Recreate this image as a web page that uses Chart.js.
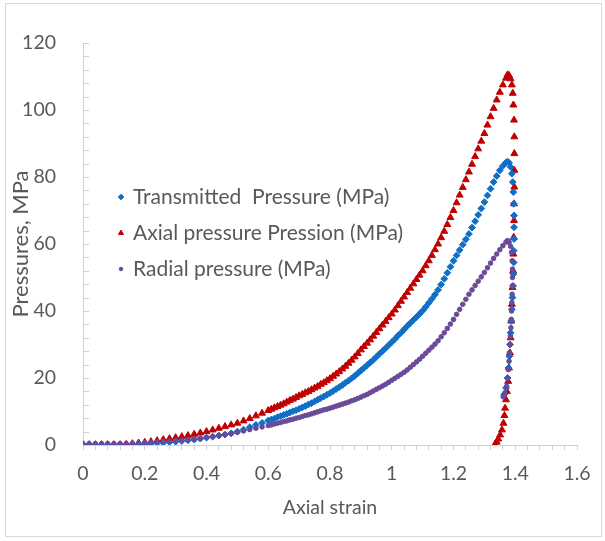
<!DOCTYPE html>
<html>
<head>
<meta charset="utf-8">
<title>Pressures vs axial strain</title>
<script src="https://cdn.jsdelivr.net/npm/chart.js@4.4.0/dist/chart.umd.min.js"></script>
<style>
  html, body { margin: 0; padding: 0; background: #fff; }
  #wrap { width: 605px; height: 541px; }
</style>
</head>
<body>
<div id="wrap"><canvas id="pressureChart" width="605" height="541"></canvas></div>
<script>
// Strain positions for the loading branch (shared by the three series)
const strainRise = [
  0, 0.02, 0.04, 0.06, 0.08, 0.1, 0.12, 0.14, 0.16, 0.18,
  0.2, 0.22, 0.24, 0.26, 0.28, 0.3, 0.32, 0.34, 0.36, 0.38,
  0.4, 0.42, 0.44, 0.46, 0.48, 0.5, 0.52, 0.54, 0.56, 0.58,
  0.6, 0.61, 0.62, 0.63, 0.64, 0.65, 0.66, 0.67, 0.68, 0.69,
  0.7, 0.71, 0.72, 0.73, 0.74, 0.75, 0.76, 0.77, 0.78, 0.79,
  0.8, 0.81, 0.82, 0.83, 0.84, 0.85, 0.86, 0.87, 0.88, 0.89,
  0.9, 0.91, 0.92, 0.93, 0.94, 0.95, 0.96, 0.97, 0.98, 0.99,
  1.0, 1.01, 1.02, 1.03, 1.04, 1.05, 1.06, 1.07, 1.08, 1.09,
  1.1, 1.11, 1.12, 1.13, 1.14, 1.15, 1.16, 1.17, 1.18, 1.19,
  1.2, 1.21, 1.22, 1.23, 1.24, 1.25, 1.26, 1.27, 1.28, 1.29,
  1.3, 1.31, 1.32, 1.33, 1.34, 1.35, 1.36, 1.37
];

// Loading branch values (MPa)
const transmittedRise = [
  0.1, 0.1, 0.1, 0.1, 0.1, 0.1, 0.1, 0.1, 0.2, 0.3,
  0.4, 0.5, 0.6, 0.7, 0.85, 1.0, 1.2, 1.4, 1.6, 1.9,
  2.2, 2.5, 2.8, 3.1, 3.5, 4.0, 4.6, 5.3, 6.0, 6.6,
  7.3, 7.6, 7.9, 8.3, 8.6, 9.0, 9.3, 9.7, 10.1, 10.4,
  10.8, 11.2, 11.6, 12.1, 12.5, 13.0, 13.5, 14.0, 14.5, 15.0,
  15.5, 16.1, 16.7, 17.3, 17.9, 18.6, 19.2, 19.9, 20.6, 21.4,
  22.2, 23.0, 23.8, 24.6, 25.4, 26.3, 27.2, 28.0, 28.9, 29.8,
  30.7, 31.6, 32.6, 33.5, 34.5, 35.5, 36.4, 37.3, 38.2, 39.1,
  40.1, 41.2, 42.4, 43.6, 44.9, 46.3, 47.9, 49.6, 51.4, 53.2,
  55.0, 56.6, 58.2, 59.8, 61.4, 63.0, 64.9, 66.8, 68.7, 70.6,
  72.5, 74.5, 76.5, 78.5, 80.3, 82.0, 83.3, 84.3
];
const axialRise = [
  0.1, 0.1, 0.1, 0.1, 0.1, 0.1, 0.1, 0.2, 0.4, 0.6,
  0.8, 1.0, 1.3, 1.6, 1.9, 2.2, 2.5, 2.8, 3.2, 3.6,
  4.0, 4.5, 5.0, 5.5, 6.0, 6.5, 7.2, 7.9, 8.7, 9.5,
  10.3, 10.7, 11.1, 11.5, 11.9, 12.3, 12.8, 13.3, 13.7, 14.2,
  14.7, 15.1, 15.6, 16.0, 16.5, 17.0, 17.5, 18.1, 18.6, 19.2,
  19.8, 20.5, 21.2, 21.9, 22.7, 23.5, 24.4, 25.3, 26.3, 27.3,
  28.4, 29.4, 30.4, 31.4, 32.5, 33.6, 34.7, 35.8, 36.9, 38.0,
  39.1, 40.3, 41.6, 42.9, 44.2, 45.5, 46.8, 48.1, 49.4, 50.7,
  52.0, 53.5, 55.0, 56.6, 58.3, 60.0, 61.9, 63.8, 65.8, 67.9,
  70.0, 72.3, 74.6, 76.9, 79.2, 81.5, 83.8, 86.1, 88.4, 90.7,
  93.0, 95.5, 98.0, 100.5, 103.0, 105.3, 107.5, 109.5
];
const radialRise = [
  0.4, 0.4, 0.4, 0.4, 0.4, 0.4, 0.4, 0.4, 0.5, 0.6,
  0.7, 0.8, 0.9, 1.0, 1.1, 1.25, 1.4, 1.6, 1.8, 2.0,
  2.3, 2.5, 2.8, 3.1, 3.4, 3.8, 4.2, 4.6, 5.0, 5.4,
  5.8, 6.0, 6.3, 6.5, 6.7, 7.0, 7.2, 7.5, 7.7, 8.0,
  8.2, 8.5, 8.8, 9.0, 9.3, 9.6, 9.9, 10.2, 10.5, 10.7,
  11.0, 11.3, 11.6, 11.9, 12.2, 12.5, 12.8, 13.2, 13.5, 13.9,
  14.3, 14.7, 15.1, 15.6, 16.1, 16.6, 17.1, 17.6, 18.1, 18.7,
  19.3, 19.9, 20.5, 21.1, 21.7, 22.4, 23.2, 24.0, 24.8, 25.6,
  26.5, 27.4, 28.3, 29.2, 30.1, 31.1, 32.3, 33.5, 34.8, 36.1,
  37.5, 39.0, 40.5, 42.0, 43.5, 45.0, 46.3, 47.6, 48.9, 50.2,
  51.5, 52.9, 54.3, 55.7, 57.0, 58.3, 59.5, 60.6
];

// Peak and unloading branch (strain, MPa)
const transmittedDropX = [1.375, 1.38, 1.385, 1.389, 1.392, 1.394, 1.395, 1.396, 1.396, 1.396, 1.395, 1.395, 1.394, 1.393, 1.391, 1.389, 1.387, 1.385, 1.383, 1.381, 1.378, 1.375, 1.37, 1.364];
const transmittedDropY = [84.6, 84.2, 83.0, 81.0, 78.5, 75.5, 72.0, 68.5, 65.0, 61.5, 58.0, 54.5, 51.0, 47.5, 44.0, 40.5, 37.0, 33.5, 30.0, 26.5, 23.0, 20.0, 17.0, 15.0];
const axialDropX = [1.375, 1.38, 1.385, 1.389, 1.392, 1.394, 1.396, 1.397, 1.397, 1.397, 1.397, 1.396, 1.396, 1.395, 1.394, 1.393, 1.391, 1.389, 1.387, 1.385, 1.383, 1.38, 1.377, 1.373, 1.37, 1.367, 1.365, 1.362, 1.357, 1.351, 1.345, 1.34, 1.335];
const axialDropY = [110.5, 110.3, 109.3, 107.5, 105.0, 101.5, 97.0, 92.0, 87.0, 82.0, 77.0, 72.0, 67.0, 62.0, 57.0, 52.0, 47.0, 42.0, 37.0, 32.0, 27.5, 23.0, 19.0, 16.0, 13.5, 11.0, 8.8, 6.5, 4.5, 3.0, 1.8, 0.9, 0.3];
const radialDropX = [1.375, 1.38, 1.385, 1.388, 1.39, 1.391, 1.391, 1.391, 1.39, 1.389, 1.388, 1.387, 1.386, 1.384, 1.383, 1.381, 1.38, 1.378, 1.376, 1.372, 1.366, 1.361];
const radialDropY = [61.0, 60.5, 59.3, 57.5, 55.0, 52.5, 50.0, 47.5, 45.0, 42.5, 40.0, 37.5, 35.0, 32.5, 30.0, 27.5, 25.0, 22.5, 20.0, 17.5, 15.5, 14.4];

const seriesNames = ['Transmitted  Pressure (MPa)', 'Axial pressure Pression (MPa)', 'Radial pressure (MPa)'];
const seriesColors = ['#0f6fc6', '#c00000', '#6a4a99'];
const xTicks = [0, 0.2, 0.4, 0.6, 0.8, 1, 1.2, 1.4, 1.6];
const yTicks = [0, 20, 40, 60, 80, 100, 120];

function toPoints(xs, ys) {
  return xs.map((x, i) => ({ x: x, y: ys[i] }));
}

const textColor = '#595959';
const lineColor = '#d0d0d0';
const fontFamily = 'Lato, "Open Sans", sans-serif';

// outer frame of the chart
const framePlugin = {
  id: 'frame',
  beforeDraw(chart) {
    const ctx = chart.ctx;
    ctx.save();
    ctx.fillStyle = '#ffffff';
    ctx.fillRect(0, 0, chart.width, chart.height);
    ctx.strokeStyle = '#d9d9d9';
    ctx.lineWidth = 1;
    ctx.strokeRect(5.5, 3.5, 596, 533);
    ctx.restore();
  }
};

// minor tick marks on the value axis point into the plot
const innerTicksPlugin = {
  id: 'innerTicks',
  afterDraw(chart) {
    const ctx = chart.ctx;
    const y = chart.scales.y;
    const left = chart.chartArea.left;
    ctx.save();
    ctx.strokeStyle = lineColor;
    ctx.lineWidth = 1;
    y.ticks.forEach(t => {
      const py = Math.round(y.getPixelForValue(t.value)) + 0.5;
      ctx.beginPath();
      ctx.moveTo(left, py);
      ctx.lineTo(left + 6, py);
      ctx.stroke();
    });
    ctx.restore();
  }
};

// legend sitting inside the plot area
const legendPlugin = {
  id: 'insideLegend',
  afterDraw(chart) {
    const ctx = chart.ctx;
    const rows = [197, 233, 269];
    ctx.save();
    ctx.font = '21px ' + fontFamily;
    ctx.textBaseline = 'middle';
    chart.data.datasets.slice().sort((a, b) => a.legendIndex - b.legendIndex).forEach((ds, i) => {
      ctx.fillStyle = ds.backgroundColor;
      ctx.strokeStyle = ds.borderColor;
      Chart.helpers.drawPoint(ctx, {
        pointStyle: ds.pointStyle,
        radius: ds.legendRadius,
        borderWidth: 1,
        rotation: 0
      }, 121, rows[i]);
      ctx.fillStyle = textColor;
      ctx.fillText(ds.label, 133, rows[i]);
    });
    ctx.restore();
  }
};

function isMajor(v, step) {
  return Math.abs(v / step - Math.round(v / step)) < 1e-6;
}

new Chart(document.getElementById('pressureChart').getContext('2d'), {
  type: 'scatter',
  data: {
    datasets: [
      {
        label: seriesNames[0],
        legendIndex: 0,
        data: toPoints(strainRise, transmittedRise).concat(toPoints(transmittedDropX, transmittedDropY)),
        pointStyle: 'rectRot',
        pointRadius: 3.4,
        legendRadius: 2.8,
        backgroundColor: seriesColors[0],
        borderColor: seriesColors[0],
        borderWidth: 1,
        order: 2
      },
      {
        label: seriesNames[1],
        legendIndex: 1,
        data: toPoints(strainRise, axialRise).concat(toPoints(axialDropX, axialDropY)),
        pointStyle: 'triangle',
        pointRadius: 4,
        legendRadius: 3,
        backgroundColor: seriesColors[1],
        borderColor: seriesColors[1],
        borderWidth: 1,
        order: 3
      },
      {
        label: seriesNames[2],
        legendIndex: 2,
        data: toPoints(strainRise, radialRise).concat(toPoints(radialDropX, radialDropY)),
        pointStyle: 'circle',
        pointRadius: 2.3,
        legendRadius: 1.8,
        backgroundColor: seriesColors[2],
        borderColor: seriesColors[2],
        borderWidth: 1,
        order: 1
      }
    ]
  },
  options: {
    responsive: false,
    animation: false,
    devicePixelRatio: 1,
    layout: { padding: { left: 0, right: 28, top: 43, bottom: 0 } },
    plugins: {
      legend: { display: false },
      tooltip: { enabled: false }
    },
    scales: {
      x: {
        type: 'linear',
        min: 0,
        max: 1.6,
        afterFit: s => { s.height = 96; },
        afterBuildTicks: s => {
          // minor ticks every 0.04, labels only on the majors
          const ticks = [];
          for (let i = 0; i <= 40; i++) ticks.push({ value: i * 0.04 });
          s.ticks = ticks;
        },
        ticks: {
          autoSkip: false,
          maxRotation: 0,
          padding: 12,
          color: textColor,
          font: { family: fontFamily, size: 19.5 },
          callback: v => {
            if (!isMajor(v, 0.2)) return '';
            const n = Number(v.toFixed(1));
            return xTicks.includes(n) ? String(n) : '';
          }
        },
        grid: { display: true, drawOnChartArea: false, drawTicks: true, tickLength: 5, color: lineColor },
        border: { display: true, color: lineColor },
        title: {
          display: true,
          text: 'Axial strain',
          color: textColor,
          font: { family: fontFamily, size: 19.5 },
          padding: { top: 0, bottom: 22 }
        }
      },
      y: {
        type: 'linear',
        min: 0,
        max: 120,
        afterFit: s => { s.width = 83; },
        afterBuildTicks: s => {
          const ticks = [];
          for (let i = 0; i <= 30; i++) ticks.push({ value: i * 4 });
          s.ticks = ticks;
        },
        ticks: {
          autoSkip: false,
          padding: 19,
          color: textColor,
          font: { family: fontFamily, size: 19.5 },
          callback: v => (yTicks.includes(v) ? String(v) : '')
        },
        grid: { display: false },
        border: { display: true, color: lineColor },
        title: {
          display: true,
          text: 'Pressures, MPa',
          color: textColor,
          font: { family: fontFamily, size: 22 },
          padding: { top: 8, bottom: 0 }
        }
      }
    }
  },
  plugins: [framePlugin, innerTicksPlugin, legendPlugin]
});
</script>
</body>
</html>
